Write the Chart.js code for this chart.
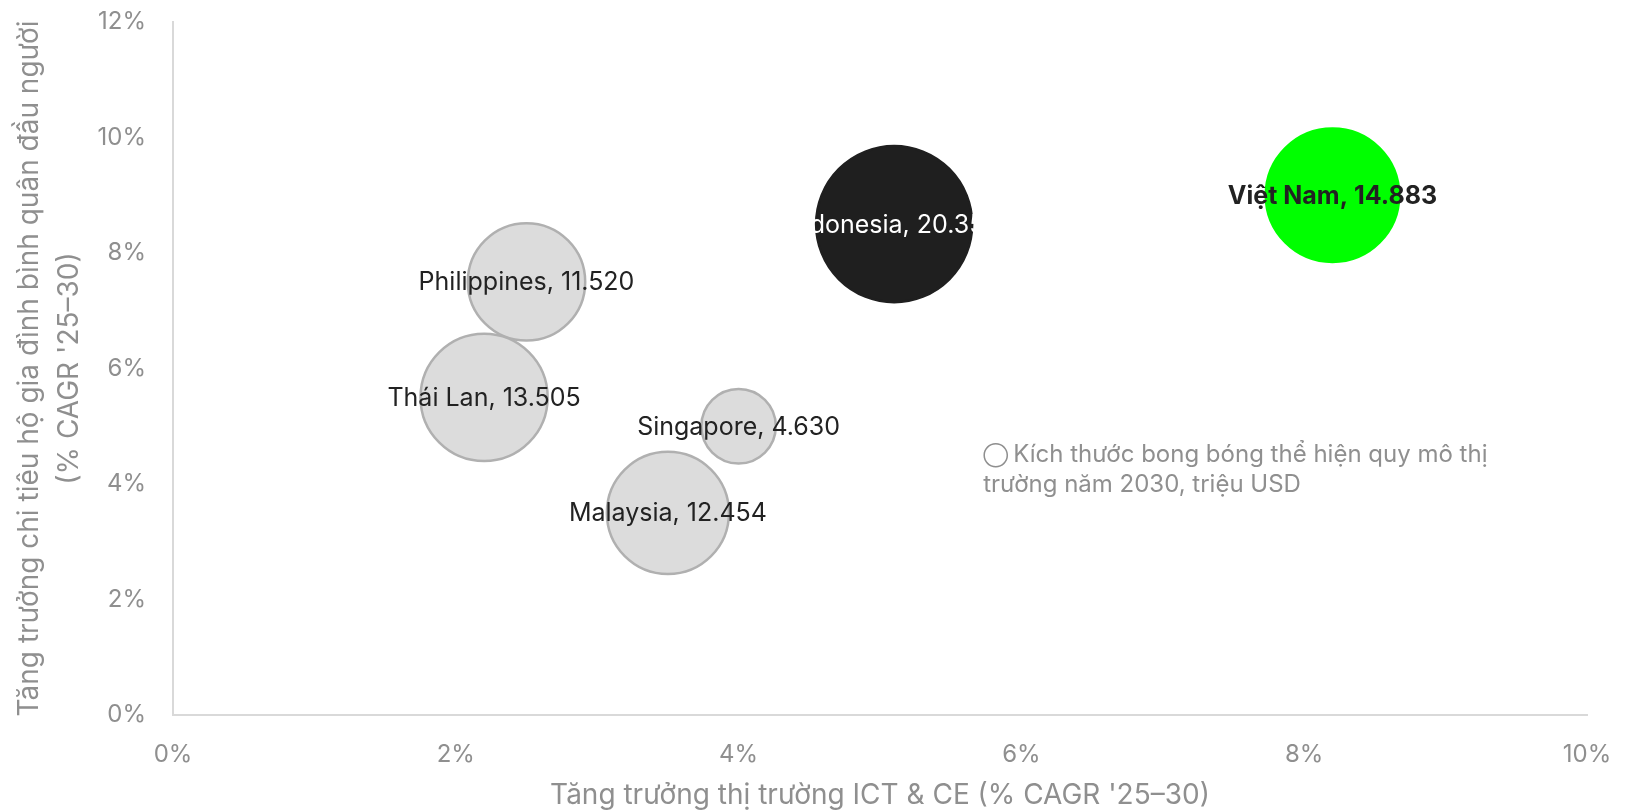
<!DOCTYPE html>
<html>
<head>
<meta charset="utf-8">
<script src="https://cdn.jsdelivr.net/npm/chart.js@4/dist/chart.umd.min.js"></script>
<style>
  html, body { margin: 0; padding: 0; background: #fff; }
  #wrap { width: 1626px; height: 812px; }
</style>
</head>
<body>
<div id="wrap"><canvas id="bong"></canvas></div>
<script>
// du lieu
const countries = ['Philippines', 'Thái Lan', 'Singapore', 'Malaysia', 'Indonesia', 'Việt Nam'];
const ictGrowth = [2.5, 2.2, 4.0, 3.5, 5.1, 8.2];      // % CAGR '25-30 (truc x)
const spendGrowth = [7.5, 5.5, 5.0, 3.5, 8.5, 9.0];    // % CAGR '25-30 (truc y)
const marketSize = [11520, 13505, 4630, 12454, 20350, 14883]; // trieu USD 2030
const xTicks = [0, 2, 4, 6, 8, 10];
const yTicks = [0, 2, 4, 6, 8, 10, 12];

const FONT = "Inter, 'Noto Sans', 'DejaVu Sans', sans-serif";
const GREY = '#8f8f8f';

function fmt(n) {
    return n.toString().replace(/\B(?=(\d{3})+(?!\d))/g, '.');
}

let points = [];
for (let i = 0; i < countries.length; i++) {
    // dien tich bong bong ti le voi quy mo thi truong
    points.push({ x: ictGrowth[i], y: spendGrowth[i], r: 0.547 * Math.sqrt(marketSize[i]) });
}

const fill = ['#dcdcdc', '#dcdcdc', '#dcdcdc', '#dcdcdc', '#1f1f1f', '#00ff00'];
const border = ['#b0b0b0', '#b0b0b0', '#b0b0b0', '#b0b0b0', '#1f1f1f', '#00ff00'];
const labelColor = ['#222', '#222', '#222', '#222', '#ffffff', '#222'];
const labelBold = [false, false, false, false, false, true];

const bubbleLabels = {
    id: 'bubbleLabels',
    afterDatasetsDraw(chart) {
        const ctx = chart.ctx;
        const meta = chart.getDatasetMeta(0);
        ctx.save();
        ctx.textAlign = 'center';
        ctx.textBaseline = 'middle';
        meta.data.forEach((el, i) => {
            ctx.font = (labelBold[i] ? '700 ' : '400 ') + '25px ' + FONT;
            ctx.fillStyle = labelColor[i];
            ctx.fillText(countries[i] + ', ' + fmt(marketSize[i]), el.x, el.y + 1);
        });
        ctx.restore();
    }
};

const note = {
    id: 'note',
    afterDraw(chart) {
        const ctx = chart.ctx;
        const x = chart.scales.x.getPixelForValue(5.73);
        const y = chart.scales.y.getPixelForValue(4.5);
        ctx.save();
        ctx.fillStyle = GREY;
        ctx.textAlign = 'left';
        ctx.textBaseline = 'middle';
        ctx.font = '400 18px ' + FONT;
        ctx.fillText('◯', x, y + 1);
        const w = ctx.measureText('◯ ').width;
        ctx.font = '400 24px ' + FONT;
        ctx.fillText('Kích thước bong bóng thể hiện quy mô thị', x + w, y);
        ctx.fillText('trường năm 2030, triệu USD', x, y + 30);
        ctx.restore();
    }
};

const config = {
    type: 'bubble',
    data: {
        datasets: [{
            label: 'Quy mô thị trường',
            data: points,
            backgroundColor: fill,
            borderColor: border,
            borderWidth: 2.5,
            hoverBorderWidth: 2.5
        }]
    },
    options: {
        responsive: true,
        maintainAspectRatio: false,
        animation: false,
        events: [],
        layout: {
            autoPadding: false,
            padding: { top: 22, right: 39, left: 0, bottom: 0 }
        },
        plugins: {
            legend: { display: false },
            tooltip: { enabled: false }
        },
        scales: {
            x: {
                type: 'linear',
                min: 0,
                max: 10,
                afterBuildTicks: (s) => { s.ticks = xTicks.map(v => ({ value: v })); },
                afterFit: (s) => { s.height = 97; s.paddingLeft = 0; s.paddingRight = 0; },
                grid: { display: false, drawTicks: false },
                border: { display: true, color: '#d9d9d9', width: 2 },
                ticks: {
                    padding: 25,
                    color: GREY,
                    font: { family: FONT, size: 24 },
                    maxRotation: 0,
                    callback: (v) => v + '%'
                },
                title: {
                    display: true,
                    text: "Tăng trưởng thị trường ICT & CE (% CAGR '25–30)",
                    color: GREY,
                    font: { family: FONT, size: 28, lineHeight: 1.2 },
                    padding: { top: 0, bottom: 0 }
                }
            },
            y: {
                type: 'linear',
                min: 0,
                max: 12,
                afterBuildTicks: (s) => { s.ticks = yTicks.map(v => ({ value: v })); },
                afterFit: (s) => { s.width = 173; s.paddingTop = 0; s.paddingBottom = 0; },
                grid: { display: false, drawTicks: false },
                border: { display: true, color: '#d9d9d9', width: 2 },
                ticks: {
                    padding: 27,
                    color: GREY,
                    font: { family: FONT, size: 24 },
                    callback: (v) => v + '%'
                },
                title: {
                    display: true,
                    text: ['Tăng trưởng chi tiêu hộ gia đình bình quân đầu người', "(% CAGR '25–30)"],
                    color: GREY,
                    font: { family: FONT, size: 28, lineHeight: 1.45 },
                    padding: { top: 9, bottom: 0 }
                }
            }
        }
    },
    plugins: [bubbleLabels, note]
};

const bong = new Chart(document.getElementById('bong'), config);
</script>
</body>
</html>
